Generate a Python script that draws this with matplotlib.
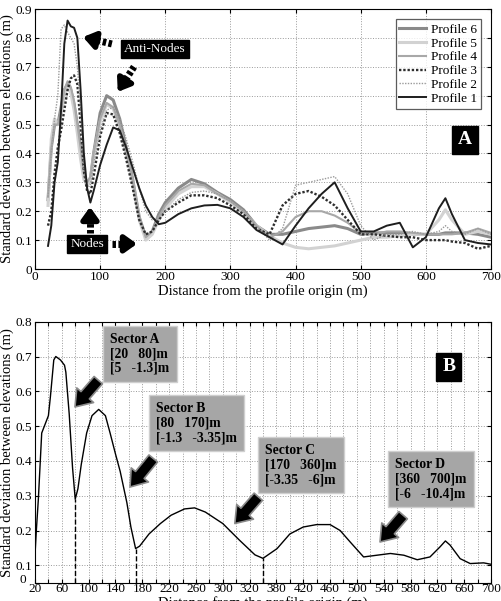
import numpy as np
import matplotlib
matplotlib.use('Agg')
import matplotlib.pyplot as plt

plt.rcParams['font.family'] = ['Liberation Serif', 'DejaVu Serif']
plt.rcParams['axes.linewidth'] = 0.8

# ---- panel A data: std between elevations for six profiles ----
dist = [20, 25, 30, 35, 40, 45, 50, 55, 60, 65, 70, 75, 80, 85, 90, 100, 110, 120, 130, 140,
        150, 160, 170, 180, 190, 200, 220, 240, 260, 280, 300, 320, 340, 360, 380, 400, 420,
        440, 460, 480, 500, 520, 540, 560, 580, 600, 620, 630, 640, 660, 680, 700]

profile1 = [0.08, 0.15, 0.30, 0.37, 0.55, 0.78, 0.86, 0.84, 0.835, 0.80, 0.62, 0.40, 0.28, 0.23,
            0.27, 0.36, 0.43, 0.49, 0.48, 0.42, 0.35, 0.28, 0.22, 0.18, 0.155, 0.16, 0.19, 0.21,
            0.22, 0.222, 0.21, 0.18, 0.135, 0.11, 0.085, 0.15, 0.21, 0.26, 0.30, 0.21, 0.13,
            0.13, 0.15, 0.16, 0.075, 0.11, 0.21, 0.245, 0.19, 0.10, 0.09, 0.085]
profile2 = [0.25, 0.40, 0.52, 0.60, 0.83, 0.845, 0.82, 0.80, 0.78, 0.70, 0.55, 0.35, 0.28, 0.29,
            0.36, 0.48, 0.55, 0.56, 0.52, 0.45, 0.37, 0.28, 0.20, 0.17, 0.18, 0.20, 0.24, 0.265,
            0.27, 0.26, 0.235, 0.20, 0.15, 0.10, 0.14, 0.29, 0.30, 0.31, 0.32, 0.26, 0.15, 0.10,
            0.12, 0.12, 0.13, 0.12, 0.13, 0.15, 0.13, 0.12, 0.14, 0.12]
profile3 = [0.15, 0.20, 0.33, 0.42, 0.48, 0.55, 0.62, 0.66, 0.67, 0.64, 0.50, 0.34, 0.27, 0.26,
            0.32, 0.46, 0.54, 0.535, 0.47, 0.38, 0.28, 0.17, 0.12, 0.13, 0.17, 0.20, 0.23, 0.255,
            0.255, 0.245, 0.22, 0.19, 0.14, 0.12, 0.22, 0.26, 0.27, 0.25, 0.22, 0.17, 0.12, 0.12,
            0.115, 0.11, 0.11, 0.10, 0.10, 0.10, 0.095, 0.09, 0.07, 0.08]
profile4 = [0.25, 0.42, 0.50, 0.50, 0.55, 0.62, 0.65, 0.63, 0.58, 0.50, 0.42, 0.33, 0.30, 0.32,
            0.40, 0.52, 0.575, 0.56, 0.50, 0.41, 0.31, 0.18, 0.11, 0.13, 0.18, 0.22, 0.27, 0.295,
            0.29, 0.26, 0.235, 0.20, 0.15, 0.11, 0.13, 0.18, 0.20, 0.20, 0.185, 0.16, 0.125, 0.12,
            0.13, 0.13, 0.125, 0.12, 0.12, 0.12, 0.12, 0.125, 0.14, 0.125]
profile5 = [0.22, 0.45, 0.52, 0.50, 0.53, 0.60, 0.63, 0.61, 0.55, 0.47, 0.38, 0.31, 0.29, 0.31,
            0.39, 0.51, 0.57, 0.555, 0.49, 0.40, 0.30, 0.17, 0.10, 0.12, 0.17, 0.21, 0.26, 0.285,
            0.285, 0.26, 0.23, 0.195, 0.15, 0.115, 0.09, 0.075, 0.07, 0.075, 0.08, 0.09, 0.10,
            0.11, 0.11, 0.115, 0.12, 0.12, 0.17, 0.205, 0.17, 0.12, 0.13, 0.12]
profile6 = [0.24, 0.42, 0.50, 0.50, 0.56, 0.62, 0.64, 0.62, 0.57, 0.50, 0.42, 0.33, 0.29, 0.31,
            0.40, 0.54, 0.60, 0.585, 0.52, 0.42, 0.31, 0.18, 0.11, 0.13, 0.19, 0.23, 0.28, 0.31,
            0.295, 0.265, 0.24, 0.205, 0.15, 0.12, 0.12, 0.13, 0.14, 0.145, 0.15, 0.14, 0.12,
            0.125, 0.125, 0.125, 0.12, 0.12, 0.12, 0.125, 0.125, 0.125, 0.12, 0.11]

profile_names = ['Profile 1', 'Profile 2', 'Profile 3', 'Profile 4', 'Profile 5', 'Profile 6']

# ---- panel B data: mean curve ----
dist_b = [20, 22, 25, 30, 35, 40, 43, 48, 51, 58, 64, 66, 71, 76, 80, 84, 89, 97, 105, 115,
          125, 132, 140, 147, 157, 163, 170, 176, 182, 190, 207, 223, 243, 258, 274, 300, 325,
          348, 360, 381, 400, 420, 440, 460, 475, 490, 510, 530, 550, 570, 590, 609, 624, 632,
          639, 654, 669, 689, 700]
std_b = [0.13, 0.20, 0.29, 0.48, 0.505, 0.53, 0.585, 0.69, 0.70, 0.69, 0.675, 0.655, 0.535,
         0.38, 0.29, 0.32, 0.39, 0.48, 0.53, 0.548, 0.53, 0.48, 0.42, 0.37, 0.28, 0.21, 0.148,
         0.155, 0.17, 0.19, 0.22, 0.244, 0.262, 0.265, 0.253, 0.22, 0.172, 0.13, 0.12, 0.148,
         0.19, 0.21, 0.217, 0.217, 0.20, 0.167, 0.124, 0.129, 0.134, 0.129, 0.116, 0.124, 0.153,
         0.17, 0.158, 0.119, 0.105, 0.107, 0.103]
sector_bounds = [80, 170, 360]
sector_texts = ['Sector A\n[20   80]m\n[5   -1.3]m',
                'Sector B\n[80   170]m\n[-1.3   -3.35]m',
                'Sector C\n[170   360]m\n[-3.35   -6]m',
                'Sector D\n[360   700]m\n[-6   -10.4]m']

xt_b = list(range(20, 701, 20))
xt_b_labels = ['20', '', '60', '', '100', '', '140', '', '180', '', '220', '', '260', '', '300',
               '', '320', '', '380', '', '420', '', '460', '', '500', '', '540', '', '580', '',
               '620', '', '660', '', '700']

W, H = 502, 601
fig = plt.figure(figsize=(W / 100, H / 100), dpi=100)


def fx(px):
    return px / W


def fy(py):
    return 1 - py / H


axA = fig.add_axes([fx(35), fy(269), 456 / W, 260 / H])
axB = fig.add_axes([fx(35), fy(582.7), 456 / W, 261 / H])

# ---------------- panel A ----------------
styles = [
    dict(color='#1e1e1e', lw=1.4, ls='-'),
    dict(color='#9a9a9a', lw=1.0, ls=(0, (1, 1))),
    dict(color='#2e2e2e', lw=1.7, ls=(0, (1, 0.8))),
    dict(color='#a8a8a8', lw=1.5, ls='-'),
    dict(color='#d2d2d2', lw=2.2, ls='-'),
    dict(color='#8a8a8a', lw=2.2, ls='-'),
]
profiles = [profile1, profile2, profile3, profile4, profile5, profile6]
lines = []
for vals, st, name in zip(profiles[::-1], styles[::-1], profile_names[::-1]):
    ln, = axA.plot(dist, vals, label=name, **st)
    lines.append(ln)

axA.set_xlim(0, 700)
axA.set_ylim(0, 0.9)
axA.set_xticks(range(0, 701, 100))
axA.set_yticks(np.arange(0, 0.91, 0.1))
axA.set_yticklabels(['0'] + ['%.1f' % v for v in np.arange(0.1, 0.91, 0.1)])
axA.grid(True, ls=':', color='#9a9a9a', lw=0.7)
axA.tick_params(direction='in', top=True, right=True, labelsize=9.5, length=3)
axA.tick_params(axis='x', pad=1.5)
axA.tick_params(axis='y', pad=2)
axA.set_xlabel('Distance from the profile origin (m)', fontsize=10.5, labelpad=1)
axA.set_ylabel('Standard deviation between elevations (m)', fontsize=10.5, labelpad=1)
leg = axA.legend(handles=lines, loc='upper right', fontsize=9.5, frameon=True, fancybox=False,
                 edgecolor='#333333', handlelength=2.0, handletextpad=0.4, borderpad=0.3,
                 labelspacing=0.12, bbox_to_anchor=(0.993, 0.985))
leg.get_frame().set_linewidth(0.9)

axA.text(660, 0.447, 'A', color='white', fontsize=14, fontweight='bold', ha='center', va='center',
         bbox=dict(boxstyle='square,pad=0.3', fc='black', ec='black'))
axA.text(184, 0.762, 'Anti-Nodes', color='white', fontsize=9.5, ha='center', va='center',
         bbox=dict(boxstyle='square,pad=0.25', fc='black', ec='black'))
axA.text(80, 0.087, 'Nodes', color='white', fontsize=9.5, ha='center', va='center',
         bbox=dict(boxstyle='square,pad=0.25', fc='black', ec='black'))

# striped arrows: tail (x, y) -> head (x, y)
arrowsA = [((118, 0.779), (73.7, 0.803)),
           ((152, 0.70), (127, 0.613)),
           ((84.4, 0.125), (84.4, 0.215)),
           ((118, 0.087), (156.6, 0.087))]
for (tx, ty), (hx, hy) in arrowsA:
    mx, my = tx + 0.55 * (hx - tx), ty + 0.55 * (hy - ty)
    axA.plot([tx, mx], [ty, my], color='black', lw=5, ls=(0, (0.5, 0.35)),
             solid_capstyle='butt', dash_capstyle='butt')
    axA.annotate('', xy=(hx, hy), xytext=(mx, my),
                 arrowprops=dict(arrowstyle='-|>,head_length=0.7,head_width=0.5',
                                 lw=4, color='black', shrinkA=0, shrinkB=0))

# ---------------- panel B ----------------
axB.plot(dist_b, std_b, color='black', lw=1.0)
for xb in sector_bounds:
    axB.plot([xb, xb], [0.05, np.interp(xb, dist_b, std_b)], color='black', lw=1.0, ls='--')

axB.set_xlim(20, 700)
axB.set_ylim(0.05, 0.8)
axB.set_xticks(xt_b)
axB.set_xticklabels(xt_b_labels)
axB.set_yticks([0.05] + list(np.arange(0.1, 0.81, 0.1)))
axB.set_yticklabels([''] + ['%.1f' % v for v in np.arange(0.1, 0.81, 0.1)])
# the corner "0" sits a little up and left, as in the original
axB.text(-0.02, 0.012, '0', transform=axB.transAxes, ha='right', va='center', fontsize=9.5)
axB.grid(True, ls=':', color='#9a9a9a', lw=0.7)
axB.tick_params(direction='in', top=True, right=True, labelsize=9.5, length=3)
axB.tick_params(axis='x', pad=0.5)
axB.tick_params(axis='y', pad=2)
axB.set_xlabel('Distance from the profile origin (m)', fontsize=10.5, labelpad=0.5)
axB.set_ylabel('Standard deviation between elevations (m)', fontsize=10.5, labelpad=1)

axB.text(637, 0.67, 'B', color='white', fontsize=14, fontweight='bold', ha='center', va='center',
         bbox=dict(boxstyle='square,pad=0.3', fc='black', ec='black'))

box_pos = [(110, 329), (156, 398), (265, 440), (395, 454)]
for (px, py), txt in zip(box_pos, sector_texts):
    fig.text(fx(px), fy(py + 4), txt, fontsize=9.8, fontweight='bold', ha='left', va='top',
             linespacing=1.15,
             bbox=dict(boxstyle='square,pad=0.55', fc='#a6a6a6', ec='#cfcfcf', lw=1.0))

arrowsB = [((114.4, 0.632), (79.6, 0.555)),
           ((196.4, 0.407), (161.7, 0.325)),
           ((353, 0.297), (318, 0.22)),
           ((569, 0.244), (534.5, 0.167))]
for (tx, ty), (hx, hy) in arrowsB:
    axB.annotate('', xy=(hx, hy), xytext=(tx, ty),
                 arrowprops=dict(arrowstyle='simple,head_length=0.7,head_width=1.0,tail_width=0.5',
                                 fc='black', ec='#8a8a8a', lw=1.2, shrinkA=0, shrinkB=0,
                                 mutation_scale=16))

fig.savefig('out.png', dpi=100)
